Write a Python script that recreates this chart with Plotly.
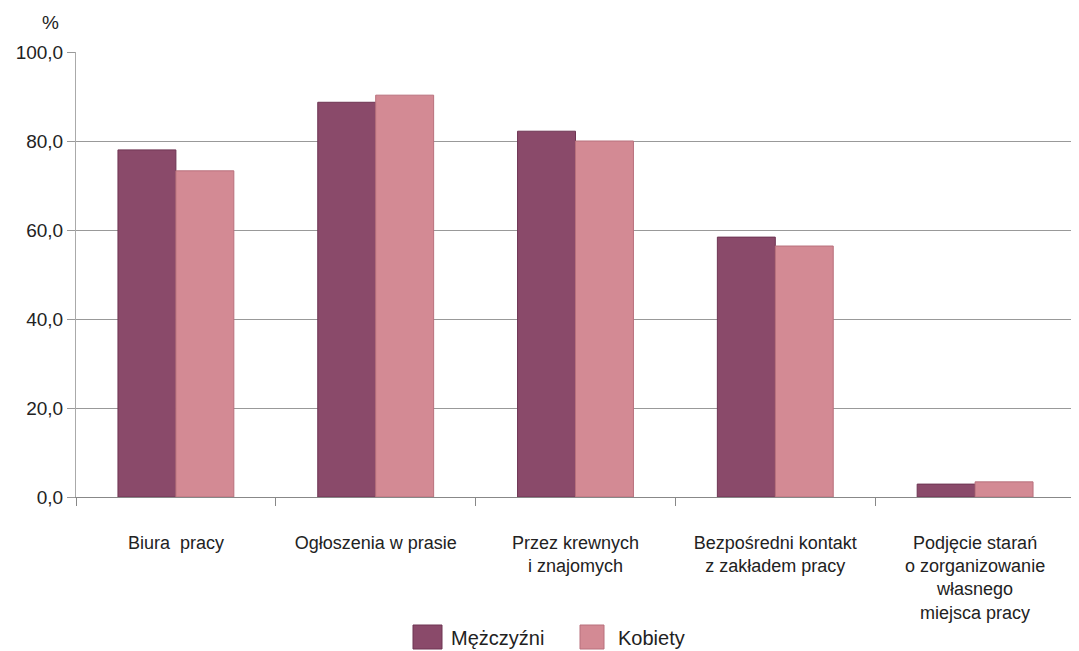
import plotly.graph_objects as go

categories = ["Biura  pracy", "Ogłoszenia w prasie", "Przez krewnych<br>i znajomych",
              "Bezpośredni kontakt<br>z zakładem pracy",
              "Podjęcie starań<br>o zorganizowanie<br>własnego<br>miejsca pracy"]
men = [78.0, 88.7, 82.2, 58.4, 2.9]
women = [73.3, 90.3, 80.0, 56.4, 3.4]
y_ticks = [0, 20, 40, 60, 80, 100]
y_tick_labels = ["0,0", "20,0", "40,0", "60,0", "80,0", "100,0"]
series_names = ["Mężczyźni", "Kobiety"]
series_colors = ["#8A4A6A", "#D38A94"]
series_edges = ["#6E3553", "#B8707C"]

W, H = 1079, 651
OFF = 8  # page body margin offset
L, R, T, B = 76 - OFF, 4 + OFF, 52 - OFF, 154 + OFF

fig = go.Figure()
for name, vals, col, edge in zip(series_names, [men, women], series_colors, series_edges):
    fig.add_trace(go.Bar(x=categories, y=vals, name=name, showlegend=False,
                         marker=dict(color=col, line=dict(color=edge, width=1))))

fig.update_layout(
    width=W, height=H,
    margin=dict(l=L, r=R, t=T, b=B),
    paper_bgcolor="white", plot_bgcolor="white",
    barmode="group", bargap=0.42, bargroupgap=0,
    font=dict(family="Liberation Sans, Arial, sans-serif", color="#222"),
    showlegend=False,
)
fig.update_xaxes(
    automargin=False,
    showgrid=False, showline=True, linecolor="#888", linewidth=1,
    ticks="outside", tickson="boundaries", ticklen=8, tickcolor="#888",
    tickfont=dict(size=18), ticklabelstandoff=29,
)
fig.update_yaxes(
    automargin=False,
    range=[0, 100], tickvals=y_ticks, ticktext=y_tick_labels,
    showgrid=True, gridcolor="#999", gridwidth=1,
    showline=True, linecolor="#aaa", linewidth=1,
    ticks="outside", ticklen=8, tickcolor="#999",
    tickfont=dict(size=19), zeroline=False,
)

# helpers: screen pixel -> paper coords
pw, ph = W - L - R, H - T - B
def px(x):
    return (x - OFF - L) / pw
def py(y):
    return (H - B - (y - OFF)) / ph

fig.add_annotation(text="%", xref="paper", yref="paper", x=px(50), y=py(23),
                   showarrow=False, font=dict(size=19), xanchor="center", yanchor="middle")

# custom legend (large squares as in the reference)
legend_items = [(413, 442, 449), (580, 604, 616)]
for (x0, x1, tx), name, col, edge in zip(legend_items, series_names, series_colors, series_edges):
    fig.add_shape(type="rect", xref="paper", yref="paper",
                  x0=px(x0), x1=px(x1), y0=py(649), y1=py(625),
                  fillcolor=col, line=dict(color=edge, width=1))
    fig.add_annotation(text=name, xref="paper", yref="paper", x=px(tx), y=py(638),
                       showarrow=False, xanchor="left", yanchor="middle",
                       font=dict(size=20))

fig.write_html("out.html")
